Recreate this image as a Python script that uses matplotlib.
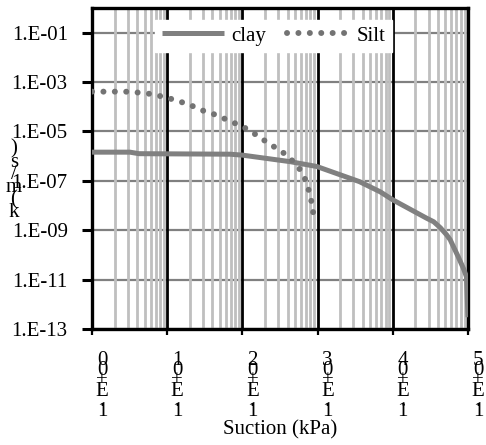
import matplotlib
matplotlib.use("Agg")
import matplotlib.pyplot as plt
import matplotlib.transforms as mtransforms
from matplotlib.ticker import LogLocator, NullFormatter, NullLocator

plt.rcParams['font.family'] = ['Liberation Serif', 'DejaVu Serif']

# clay curve, suction (kPa) vs k (m/s)
clay_suction = [1, 3.2, 4.2, 69, 100, 430, 980, 3600, 6800, 10000,
                28000, 35000, 43000, 52000, 58000, 63000, 74000, 87000,
                95500, 100000]
clay_k = [1.45e-6, 1.45e-6, 1.26e-6, 1.2e-6, 1.1e-6, 6.0e-7, 3.8e-7, 9.3e-8,
          3.6e-8, 1.7e-8, 3.1e-9, 2.2e-9, 1.25e-9, 6.5e-10, 4.1e-10, 2.4e-10,
          8.5e-11, 2.8e-11, 1.3e-11, 3.0e-13]

# silt curve
silt_suction = [1, 1.5, 1.9, 2.75, 3.7, 5.0, 6.2, 7.9, 9.8, 13.8, 19, 28, 37,
                50, 71, 100, 132, 190, 282, 390, 500, 590, 676, 760, 850, 890]
silt_k = [4.1e-4, 4.1e-4, 4.1e-4, 4.1e-4, 3.9e-4, 3.5e-4, 3.3e-4, 2.75e-4,
          2.4e-4, 1.7e-4, 1.3e-4, 7.4e-5, 5.8e-5, 4.0e-5, 2.5e-5, 1.6e-5,
          9.8e-6, 4.6e-6, 2.1e-6, 1.1e-6, 5.1e-7, 2.75e-7, 1.26e-7, 4.3e-8,
          1.05e-8, 3.1e-9]

x_ticks = [1, 10, 100, 1000, 10000, 100000]
x_labels = ['1.E+00', '1.E+01', '1.E+02', '1.E+03', '1.E+04', '1.E+05']
y_ticks = [1e-13, 1e-11, 1e-9, 1e-7, 1e-5, 1e-3, 1e-1]
y_labels = ['1.E-13', '1.E-11', '1.E-09', '1.E-07', '1.E-05', '1.E-03', '1.E-01']

fig = plt.figure(figsize=(4.86, 4.45), dpi=100)
ax = fig.add_axes([92/486, 1 - 329/445, 376/486, 321/445])

ax.plot(clay_suction, clay_k, color='#808080', lw=3.6, label='clay',
        solid_capstyle='butt', zorder=3)
ax.plot(silt_suction, silt_k, color='#737373', lw=4.3, label='Silt',
        linestyle=(0, (0.01, 1.9)), dash_capstyle='round', zorder=3)

ax.set_xscale('log')
ax.set_yscale('log')
ax.set_xlim(1, 1e5)
ax.set_ylim(1e-13, 1)

ax.set_xticks(x_ticks)
ax.set_xticklabels([])
ax.xaxis.set_minor_locator(LogLocator(base=10, subs=range(2, 10), numticks=20))
ax.xaxis.set_minor_formatter(NullFormatter())
ax.set_yticks(y_ticks)
ax.set_yticklabels(y_labels, fontsize=15)
ax.yaxis.set_minor_locator(NullLocator())
ax.yaxis.set_minor_formatter(NullFormatter())

ax.set_axisbelow(True)
ax.yaxis.set_zorder(0.4)
ax.grid(True, which='major', axis='y', color='#808080', lw=1.6)
ax.grid(True, which='minor', axis='x', color='#bfbfbf', lw=2.0)
ax.grid(True, which='major', axis='x', color='black', lw=2.0)

ax.tick_params(axis='y', which='major', direction='out', length=7, width=2.2, pad=10.5)
ax.tick_params(axis='x', which='major', direction='out', length=4.5, width=1.6)
ax.tick_params(axis='x', which='minor', length=0)
for s in ax.spines.values():
    s.set_linewidth(2.4)
    s.set_color('black')

# stacked x tick labels
trans = mtransforms.blended_transform_factory(ax.transData, ax.transAxes)
off = mtransforms.ScaledTranslation(10/100, -22/100, fig.dpi_scale_trans)
for xv, lab in zip(x_ticks, x_labels):
    ax.text(xv, 0, '\n'.join(reversed(lab)), transform=trans + off,
            ha='center', va='top', fontsize=15, linespacing=0.37)

ax.set_xlabel('Suction (kPa)', fontsize=15, labelpad=0)
ax.xaxis.set_label_coords(0.5, -0.285)

fig.text(14/486, 1 - 181/445, '\n'.join(reversed('k(m/s)')), ha='center',
         va='center', fontsize=15, linespacing=0.55)

leg = ax.legend(loc='upper center', bbox_to_anchor=(0.483, 0.963), ncol=2,
                fontsize=15, frameon=True, fancybox=False, handlelength=3.0,
                handletextpad=0.35, columnspacing=1.0, borderpad=0.3,
                borderaxespad=0)
leg.get_frame().set_facecolor('white')
leg.get_frame().set_edgecolor('white')
leg.get_frame().set_alpha(1)

fig.savefig('out.png', dpi=100)
